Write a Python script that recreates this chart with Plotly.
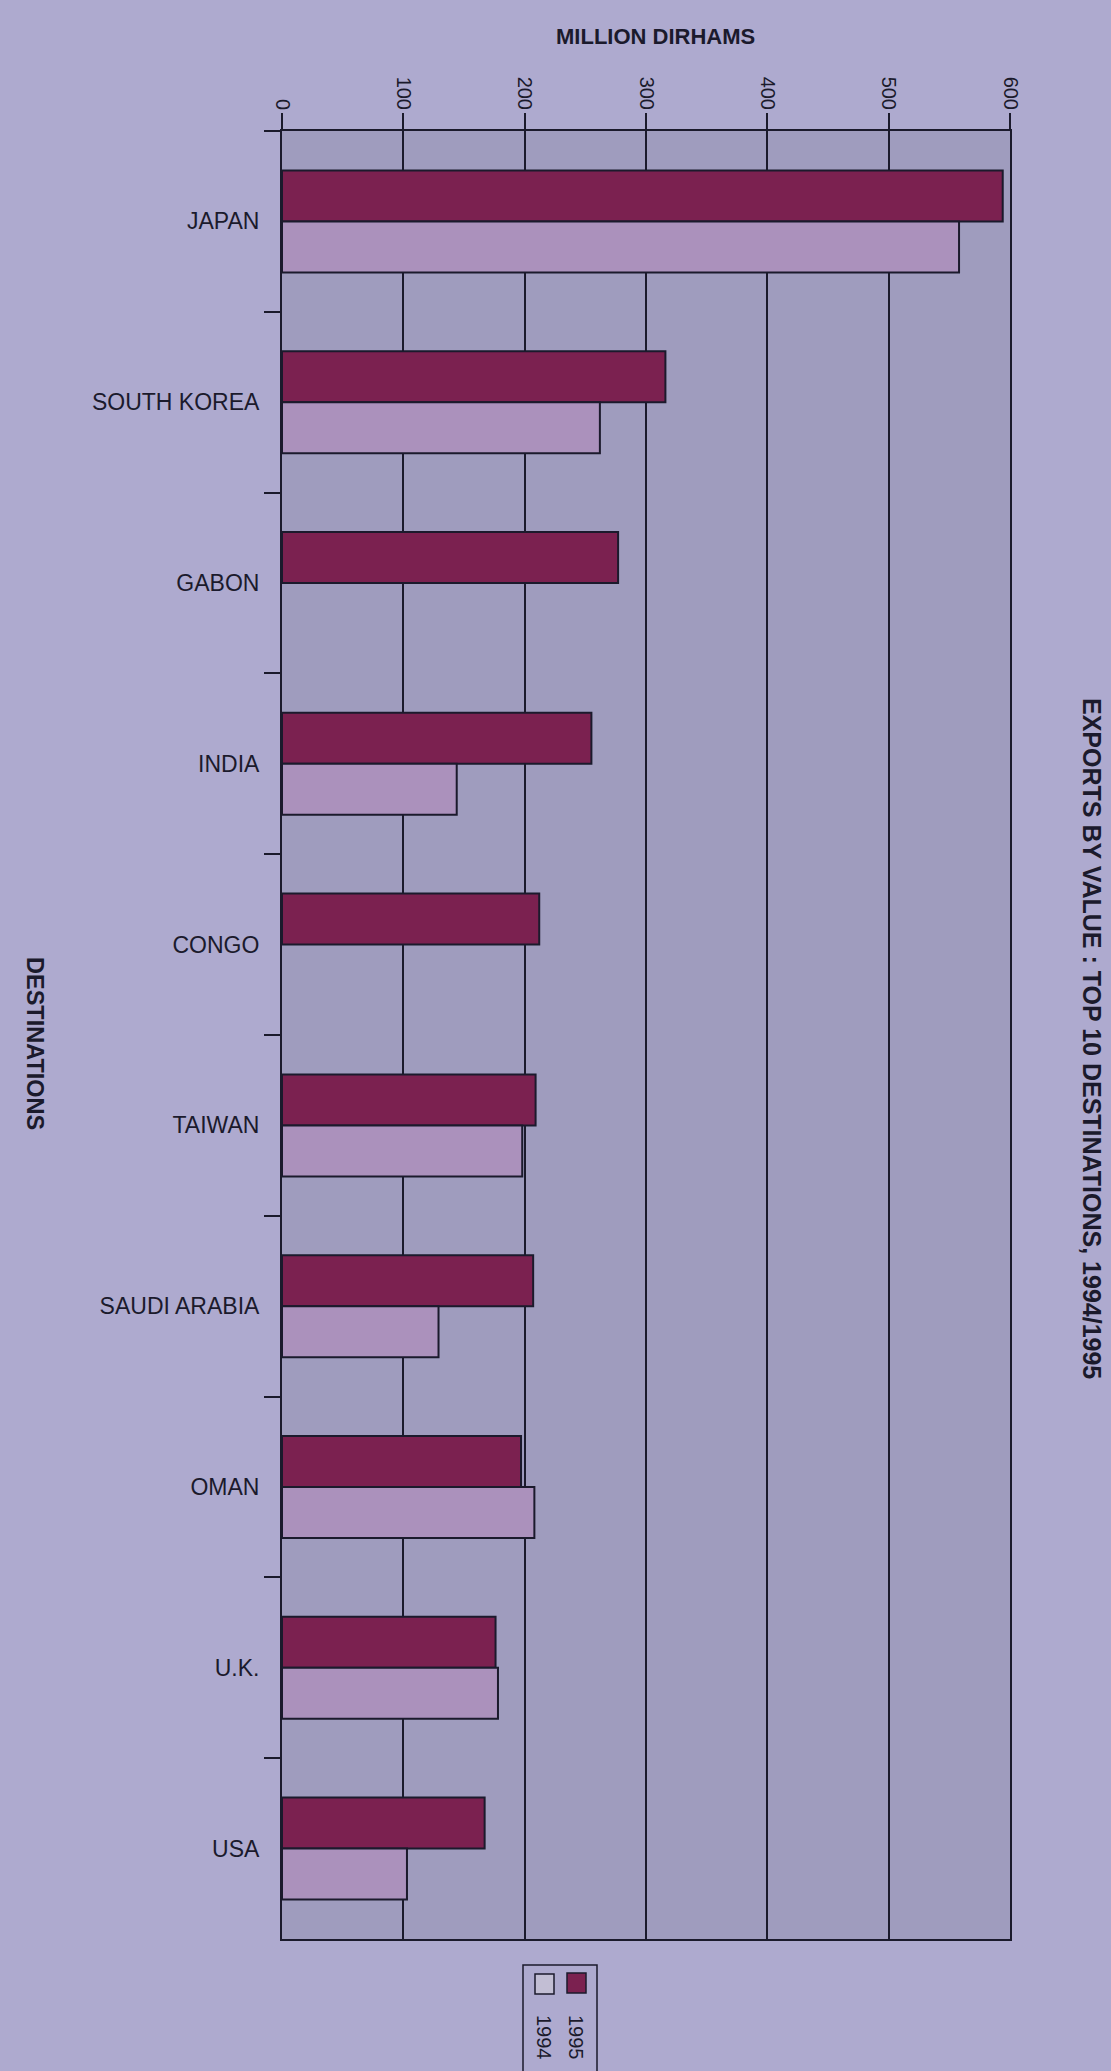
import plotly.graph_objects as go

# ---- data ----
destinations = ["JAPAN", "SOUTH KOREA", "GABON", "INDIA", "CONGO",
                "TAIWAN", "SAUDI ARABIA", "OMAN", "U.K.", "USA"]
exports_1995 = [594, 316, 277, 255, 212, 209, 207, 197, 176, 167]
exports_1994 = [558, 262, None, 144, None, 198, 129, 208, 178, 103]
x_ticks = [0, 100, 200, 300, 400, 500, 600]

# ---- styling ----
W, H = 1111, 2071
L, R, T, B = 282, 1010, 131, 1939
PW, PH = R - L, B - T
INK = "#1b1a2c"
DARK = "#7b2150"
LIGHT = "#ab91bc"
PAPER_BG = "#aeaacf"
PLOT_BG = "#9f9cbe"
FONT = "Liberation Sans, Arial, sans-serif"


def px(x):
    return (x - L) / PW


def py(y):
    return (B - y) / PH


fig = go.Figure()
fig.add_trace(go.Bar(
    y=destinations, x=exports_1995, name="1995", orientation="h",
    marker=dict(color=DARK, line=dict(color=INK, width=2)),
))
fig.add_trace(go.Bar(
    y=destinations, x=exports_1994, name="1994", orientation="h",
    marker=dict(color=LIGHT, line=dict(color=INK, width=2)),
))

annotations = [
    dict(text="<b>MILLION DIRHAMS</b>", x=px(655), y=py(36),
         font=dict(size=22, color=INK, family=FONT)),
    dict(text="<b>EXPORTS BY VALUE : TOP 10 DESTINATIONS, 1994/1995</b>",
         x=px(1092), y=py(1038), textangle=90,
         font=dict(size=25, color=INK, family=FONT)),
    dict(text="<b>DESTINATIONS</b>", x=px(35), y=py(1043), textangle=90,
         font=dict(size=23.5, color=INK, family=FONT)),
    dict(text="1995", x=px(576), y=py(2037), textangle=90,
         font=dict(size=20, color=INK, family=FONT)),
    dict(text="1994", x=px(544), y=py(2037), textangle=90,
         font=dict(size=20, color=INK, family=FONT)),
]
for a in annotations:
    a.update(xref="paper", yref="paper", showarrow=False,
             xanchor="center", yanchor="middle")

shapes = [
    dict(type="rect", x0=px(523), x1=px(597), y0=py(1965), y1=py(2090),
         line=dict(color=INK, width=1.5), fillcolor="rgba(0,0,0,0)"),
    dict(type="rect", x0=px(567), x1=px(586), y0=py(1973), y1=py(1993),
         line=dict(color=INK, width=1.5), fillcolor=DARK),
    dict(type="rect", x0=px(535), x1=px(554), y0=py(1974), y1=py(1994),
         line=dict(color=INK, width=1.5), fillcolor="#c2bed4"),
]
for s in shapes:
    s.update(xref="paper", yref="paper")

fig.update_layout(
    width=W, height=H, autosize=False,
    margin=dict(l=L, r=W - R, t=T, b=H - B, pad=0),
    paper_bgcolor=PAPER_BG, plot_bgcolor=PLOT_BG,
    barmode="group", bargap=0.436, bargroupgap=0,
    showlegend=False,
    font=dict(family=FONT, color=INK),
    annotations=annotations, shapes=shapes,
    xaxis=dict(
        side="top", range=[0, 600], tickvals=x_ticks,
        ticktext=[str(v) for v in x_ticks], tickangle=90,
        ticks="outside", ticklen=16, tickwidth=2, tickcolor=INK,
        tickfont=dict(size=20, color=INK, family=FONT),
        showgrid=True, gridcolor=INK, gridwidth=2,
        showline=True, linecolor=INK, linewidth=2, mirror=True,
        zeroline=False, ticklabelstandoff=-4,
    ),
    yaxis=dict(
        autorange="reversed", type="category",
        ticks="outside", tickson="boundaries", ticklen=16, tickwidth=2,
        tickcolor=INK, tickfont=dict(size=23, color=INK, family=FONT),
        showline=True, linecolor=INK, linewidth=2, mirror=True,
        showgrid=False, ticklabelstandoff=16,
    ),
)

fig.write_html("out.html", config={"displayModeBar": False},
               post_script="document.body.style.margin='0';document.body.style.overflow='hidden';")
